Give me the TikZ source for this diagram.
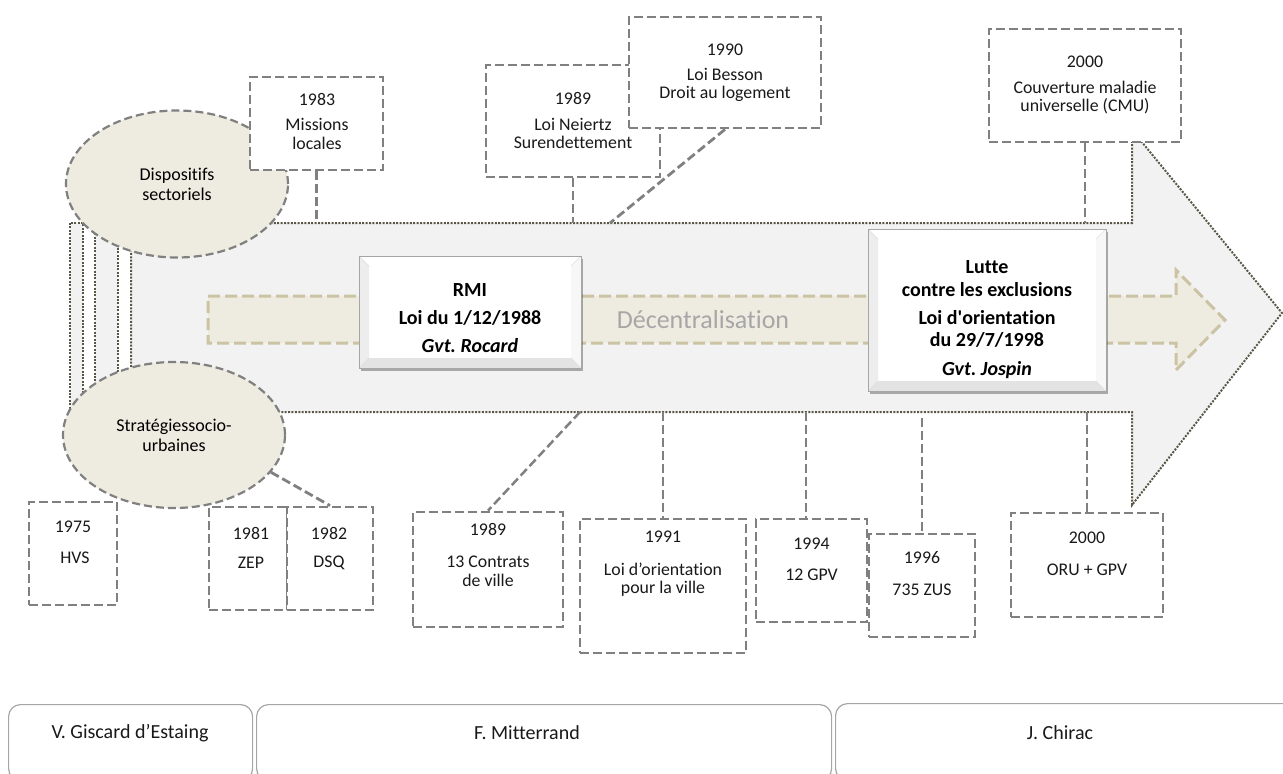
\documentclass[tikz,border=0pt]{standalone}
\usepackage{fontspec}
\setmainfont{Carlito}[Ligatures={TeX,NoCommon}]
\usetikzlibrary{shapes.geometric,shadows,calc}
\definecolor{boxgray}{HTML}{808080}
\definecolor{dotcol}{HTML}{5A5646}
\definecolor{arrowfill}{HTML}{F2F2F2}
\definecolor{tanfill}{HTML}{EEECE1}
\definecolor{tanline}{HTML}{CBC3A3}
\definecolor{ellfill}{HTML}{EEEBE0}
\definecolor{decgray}{HTML}{A6A6A6}
\definecolor{pergray}{HTML}{A6A6A6}
\frenchspacing
\begin{document}
\begin{tikzpicture}[x=1pt,y=-1pt,
  yearbox/.style={rectangle, draw=boxgray, fill=white, line width=2.8pt, dash pattern=on 9pt off 4pt, inner sep=0pt},
  conn/.style={draw=boxgray, line width=2.8pt, dash pattern=on 9pt off 4pt},
  ell/.style={ellipse, draw=boxgray, fill=ellfill, line width=2.2pt, dash pattern=on 8pt off 4pt, inner sep=0pt, minimum width=222pt, align=center, font=\fontsize{18}{20}\selectfont},
  dots/.style={draw=dotcol, line width=2pt, dash pattern=on 2pt off 1.4pt},
  txt/.style={inner sep=0pt, align=center, text=black!90, font=\fontsize{17.8}{18.5}\selectfont},
  btxt/.style={inner sep=0pt, align=center, text=black, font=\bfseries\fontsize{20}{23}\selectfont},
  bevel/.style={rectangle, fill=white, draw=gray!70, line width=0.8pt, inner sep=0pt,
    drop shadow={shadow xshift=2pt, shadow yshift=-3pt, opacity=0.3, fill=black},
    path picture={
      \coordinate (p1) at (path picture bounding box.north west);
      \coordinate (p2) at (path picture bounding box.north east);
      \coordinate (p3) at (path picture bounding box.south east);
      \coordinate (p4) at (path picture bounding box.south west);
      \coordinate (q1) at ($(p1)+(10,10)$);
      \coordinate (q2) at ($(p2)+(-10,10)$);
      \coordinate (q3) at ($(p3)+(-10,-10)$);
      \coordinate (q4) at ($(p4)+(10,-10)$);
      \fill[gray!14] (p1)--(q1)--(q4)--(p4)--cycle;
      \fill[gray!22] (p4)--(q4)--(q3)--(p3)--cycle;
      \fill[gray!6] (p2)--(q2)--(q3)--(p3)--cycle;
      \draw[gray!25, line width=0.5pt] (p1)--(q1) (p2)--(q2) (p3)--(q3) (p4)--(q4);
    }},
  perbox/.style={rectangle, rounded corners=12pt, draw=pergray, line width=1.2pt, fill=white, inner sep=0pt},
  ptxt/.style={inner sep=0pt, text=black!90, font=\fontsize{20}{22}\selectfont}
]
\useasboundingbox (0,0) rectangle (1283,774);
\clip (0,0) rectangle (1283,774);

% edges of the big arrow
\coordinate (atop) at (0,223);
\coordinate (abot) at (0,412);
\coordinate (c1990) at (610,223);
\coordinate (c1989b) at (580,412);
\coordinate (c1994) at (806,412);
\coordinate (c1996) at (922,418);

% big striped arrow
\fill[arrowfill] (70,223) rectangle (83,412);
\fill[arrowfill] (95,223) rectangle (118,412);
\fill[arrowfill] (131,223) -- (1132,223) -- (1132,130) -- (1282,313) -- (1132,505) -- (1132,412) -- (131,412) -- cycle;
\draw[dots] (70,223) rectangle (83,412);
\draw[dots] (95,223) rectangle (118,412);
\draw[dots] (131,223) -- (1132,223) -- (1132,130) -- (1282,313) -- (1132,505) -- (1132,412) -- (131,412) -- cycle;

% inner arrow
\filldraw[fill=tanfill, draw=tanline, line width=3pt, dash pattern=on 12pt off 5pt]
  (208,296) -- (1176,296) -- (1176,270) -- (1225,320) -- (1176,370) -- (1176,343) -- (208,343) -- cycle;
\node[inner sep=0pt, text=decgray, font=\fontsize{26}{28}\selectfont] (dec) at (703,320) {Décentralisation};

% ellipses
\node[ell, minimum height=147pt] (e1) at (177,184) {Dispositifs\\sectoriels};
\node[ell, minimum height=146pt] (e2) at (174,435) {Stratégiessocio-\\urbaines};

% top boxes
\node[yearbox, minimum width=133pt, minimum height=93pt] (b1983) at (316.5,123.5) {};
\node[txt] (y1983) at (317,99) {1983};
\node[txt] (l1983) at (317,134) {Missions\\locales};

\node[yearbox, minimum width=174pt, minimum height=112pt] (b1989t) at (573,121) {};
\node[txt] (y1989t) at (573,98) {1989};
\node[txt] (l1989t) at (573,133.5) {Loi Neiertz\\Surendettement};

\node[yearbox, minimum width=192pt, minimum height=111pt] (b1990) at (725,72.5) {};
\node[txt] (y1990) at (725,50) {1990};
\node[txt] (l1990) at (725,85) {Loi Besson\\Droit au logement};

\node[yearbox, minimum width=192pt, minimum height=113pt] (b2000t) at (1085,85.5) {};
\node[txt] (y2000t) at (1085,62) {2000};
\node[txt] (l2000t) at (1085,97.5) {Couverture maladie\\universelle (CMU)};

% bottom boxes
\node[yearbox, minimum width=88pt, minimum height=103pt] (b1975) at (73,553.5) {};
\node[txt] (y1975) at (73,527) {1975};
\node[txt] (l1975) at (75,558) {HVS};

\node[yearbox, minimum width=78pt, minimum height=103pt] (b1981) at (248,558.5) {};
\node[txt] (y1981) at (251,533) {1981};
\node[txt] (l1981) at (251,563) {ZEP};

\node[yearbox, minimum width=86pt, minimum height=103pt] (b1982) at (330,558.5) {};
\node[txt] (y1982) at (329,533) {1982};
\node[txt] (l1982) at (329,563) {DSQ};

\node[yearbox, minimum width=150pt, minimum height=115pt] (b1989b) at (488,569.5) {};
\node[txt] (y1989b) at (488,529) {1989};
\node[txt] (l1989b) at (488,571.5) {13 Contrats\\de ville};

\node[yearbox, minimum width=166pt, minimum height=134pt] (b1991) at (663,586) {};
\node[txt] (y1991) at (663,537) {1991};
\node[txt] (l1991) at (663,579.5) {Loi d’orientation\\pour la ville};

\node[yearbox, minimum width=111pt, minimum height=103pt] (b1994) at (811.5,570.5) {};
\node[txt] (y1994) at (811.5,544) {1994};
\node[txt] (l1994) at (811.5,575) {12 GPV};

\node[yearbox, minimum width=106pt, minimum height=103pt] (b1996) at (922,585.5) {};
\node[txt] (y1996) at (922,558) {1996};
\node[txt] (l1996) at (922,590) {735 ZUS};

\node[yearbox, minimum width=152pt, minimum height=104pt] (b2000b) at (1087,565) {};
\node[txt] (y2000b) at (1087,538) {2000};
\node[txt] (l2000b) at (1087,570) {ORU + GPV};

% connectors
\draw[conn] (b1983.south) -- (b1983.south |- atop);
\draw[conn] (b1989t.south) -- (b1989t.south |- atop);
\draw[conn] (b1990.south) -- (c1990);
\draw[conn] (b2000t.south) -- (b2000t.south |- atop);
\draw[conn] (e2.-21) -- (b1982.north);
\draw[conn, line width=2.5pt] (c1989b) -- (b1989b.north);
\draw[conn] (b1991.north |- abot) -- (b1991.north);
\draw[conn] (c1994) -- (c1994 |- b1994.north);
\draw[conn] (c1996) -- (b1996.north);
\draw[conn] (b2000b.north |- abot) -- (b2000b.north);

% central boxes
\node[bevel, minimum width=222pt, minimum height=112pt] (rmi) at (470,312) {};
\node[btxt] (rmi1) at (470,290) {RMI};
\node[btxt] (rmi2) at (470,318) {Loi du 1/12/1988};
\node[btxt, font=\bfseries\itshape\fontsize{20}{23}\selectfont] (rmi3) at (470,346) {Gvt. Rocard};

\node[bevel, minimum width=238pt, minimum height=162pt] (lutte) at (987,310) {};
\node[btxt] (lut1) at (987,278.5) {Lutte\\contre les exclusions};
\node[btxt, font=\bfseries\fontsize{20}{22}\selectfont] (lut2) at (987,329) {Loi d{\addfontfeatures{Ligatures=TeXOff}'}orientation\\du 29/7/1998};
\node[btxt, font=\bfseries\itshape\fontsize{20}{23}\selectfont] (lut3) at (987,370) {Gvt. Jospin};

% presidents
\node[perbox, minimum width=244pt, minimum height=76pt, anchor=north west] (pg) at (8,704) {};
\node[perbox, minimum width=575pt, minimum height=76pt, anchor=north west] (pm) at (256,704) {};
\node[perbox, minimum width=460pt, minimum height=77pt, anchor=north west] (pc) at (835,703) {};
\node[ptxt] (tg) at (130,733) {V. Giscard d’Estaing};
\node[ptxt] (tm) at (527,733) {F. Mitterrand};
\node[ptxt] (tc) at (1060,733) {J. Chirac};
\end{tikzpicture}
\end{document}
